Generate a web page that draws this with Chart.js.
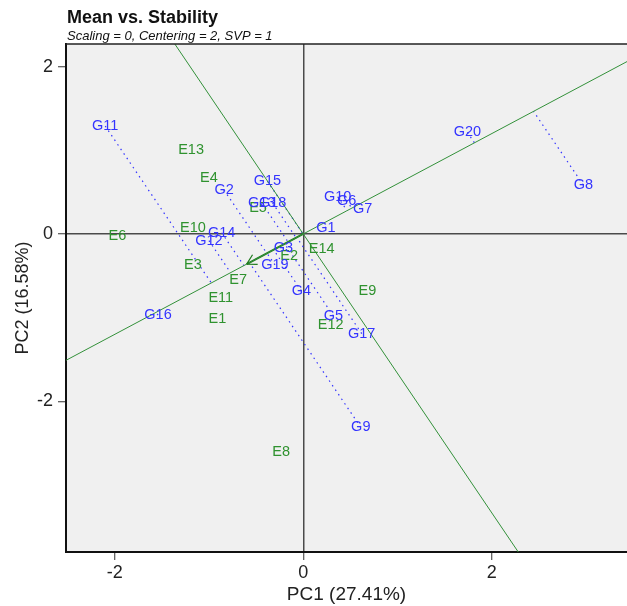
<!DOCTYPE html>
<html>
<head>
<meta charset="utf-8">
<script src="https://cdn.jsdelivr.net/npm/chart.js@4.4.1/dist/chart.umd.min.js"></script>
<style>
  body { margin: 0; background: #fff; }
  canvas { display: block; }
</style>
</head>
<body>
<canvas id="chart" width="627" height="606"></canvas>
<script>
// genotype scores (PC1, PC2)
const genoNames = ['G1','G2','G3','G4','G5','G6','G7','G8','G9','G10',
                   'G11','G12','G13','G14','G15','G16','G17','G18','G19','G20']
const genoPC1 = [0.24, -0.84, -0.21, -0.02, 0.32, 0.46, 0.63, 2.97, 0.61, 0.365,
                 -2.10, -1.00, -0.44, -0.865, -0.38, -1.54, 0.62, -0.325, -0.30, 1.74]
const genoPC2 = [0.07, 0.525, -0.17, -0.68, -0.98, 0.40, 0.295, 0.585, -2.31, 0.445,
                 1.29, -0.08, 0.37, 0.015, 0.63, -0.97, -1.19, 0.37, -0.37, 1.215]

// environment scores (PC1, PC2)
const envNames = ['E1','E2','E3','E4','E5','E6','E7','E8','E9','E10','E11','E12','E13','E14']
const envPC1 = [-0.91, -0.15, -1.17, -1.00, -0.48, -1.97, -0.69, -0.235, 0.68, -1.17, -0.875, 0.29, -1.19, 0.195]
const envPC2 = [-1.02, -0.26, -0.37, 0.67, 0.31, -0.02, -0.55, -2.61, -0.68, 0.07, -0.77, -1.09, 1.00, -0.18]

// average environment coordinate (arrow tip)
const meanEnv = [-0.60, -0.36]

const xTicks = [-2, 0, 2]
const yTicks = [-2, 0, 2]
const xRange = [-2.516, 3.433]
const yRange = [-3.80, 2.27]

const blue = '#3434ff'
const green = '#2f922f'
const lineGreen = '#33913a'

chartIt()

function chartIt() {
    const [mx, my] = meanEnv
    const m2 = mx * mx + my * my
    const slope = my / mx

    const datasets = []

    // AEC abscissa (through origin and mean environment)
    datasets.push({
        data: [{x: xRange[0] - 1, y: slope * (xRange[0] - 1)}, {x: xRange[1] + 1, y: slope * (xRange[1] + 1)}],
        showLine: true, borderColor: lineGreen, borderWidth: 1, pointRadius: 0
    })
    // AEC ordinate (perpendicular through origin)
    datasets.push({
        data: [{x: -slope * (yRange[1] + 1), y: yRange[1] + 1}, {x: -slope * (yRange[0] - 1), y: yRange[0] - 1}],
        showLine: true, borderColor: lineGreen, borderWidth: 1, pointRadius: 0
    })
    // arrow shaft from origin to mean environment
    datasets.push({
        data: [{x: 0, y: 0}, {x: mx, y: my}],
        showLine: true, borderColor: '#1f7a1f', borderWidth: 2, pointRadius: 0
    })
    // dotted projections of each genotype onto the AEC abscissa
    genoNames.forEach((name, i) => {
        const gx = genoPC1[i], gy = genoPC2[i]
        const t = (gx * mx + gy * my) / m2
        datasets.push({
            data: [{x: gx, y: gy}, {x: t * mx, y: t * my}],
            showLine: true, borderColor: blue, borderWidth: 1.2,
            borderDash: [1.5, 4], pointRadius: 0
        })
    })

    const labelPlugin = {
        id: 'labels',
        beforeDraw(chart) {
            const {ctx, chartArea: a} = chart
            ctx.save()
            ctx.fillStyle = '#f0f0f0'
            ctx.fillRect(a.left, a.top, a.right - a.left, a.bottom - a.top)
            // title and subtitle
            ctx.fillStyle = '#111'
            ctx.textAlign = 'left'
            ctx.textBaseline = 'alphabetic'
            ctx.font = 'bold 18px "Liberation Sans", Arial, sans-serif'
            ctx.fillText('Mean vs. Stability', a.left + 1, 23)
            ctx.font = 'italic 13px "Liberation Sans", Arial, sans-serif'
            ctx.fillText('Scaling = 0, Centering = 2, SVP = 1', a.left + 1, 40)
            ctx.restore()
        },
        afterDatasetsDraw(chart) {
            const {ctx, chartArea: a} = chart
            const xs = chart.scales.x, ys = chart.scales.y
            ctx.save()
            // arrow head at mean environment
            const tx = xs.getPixelForValue(meanEnv[0]), ty = ys.getPixelForValue(meanEnv[1])
            const ox = xs.getPixelForValue(0), oy = ys.getPixelForValue(0)
            const ang = Math.atan2(oy - ty, ox - tx)
            ctx.strokeStyle = '#1f7a1f'
            ctx.lineWidth = 1.2
            ctx.beginPath()
            for (const d of [-0.52, 0.52]) {
                ctx.moveTo(tx, ty)
                ctx.lineTo(tx + 11 * Math.cos(ang + d), ty + 11 * Math.sin(ang + d))
            }
            ctx.stroke()

            ctx.textAlign = 'center'
            ctx.textBaseline = 'middle'
            ctx.font = '14.5px "Liberation Sans", Arial, sans-serif'
            ctx.fillStyle = green
            envNames.forEach((n, i) => {
                ctx.fillText(n, xs.getPixelForValue(envPC1[i]), ys.getPixelForValue(envPC2[i]))
            })
            ctx.fillStyle = blue
            genoNames.forEach((n, i) => {
                ctx.fillText(n, xs.getPixelForValue(genoPC1[i]), ys.getPixelForValue(genoPC2[i]))
            })
            // top frame line
            ctx.strokeStyle = '#222'
            ctx.lineWidth = 1.5
            ctx.beginPath()
            ctx.moveTo(a.left, a.top)
            ctx.lineTo(a.right, a.top)
            ctx.stroke()
            ctx.restore()
        }
    }

    const zeroGrid = {
        color: c => (c.tick && c.tick.value === 0) ? '#4a4a4a' : 'rgba(0,0,0,0)',
        lineWidth: 1.5,
        tickColor: '#333',
        tickLength: 8,
        tickWidth: 1
    }

    const ctx = document.getElementById('chart').getContext('2d')
    new Chart(ctx, {
        type: 'scatter',
        data: { datasets },
        plugins: [labelPlugin],
        options: {
            responsive: false,
            animation: false,
            devicePixelRatio: 1,
            layout: { padding: { top: 44, left: 0, right: 0, bottom: 0 } },
            plugins: { legend: { display: false }, tooltip: { enabled: false } },
            scales: {
                x: {
                    type: 'linear', min: xRange[0], max: xRange[1],
                    afterFit: s => { s.height = 54 },
                    afterBuildTicks: s => { s.ticks = xTicks.map(v => ({value: v})) },
                    grid: zeroGrid,
                    border: { color: '#111', width: 2 },
                    ticks: { color: '#222', padding: 2, font: { size: 18, family: '"Liberation Sans", Arial' } },
                    title: { display: true, text: 'PC1 (27.41%)', color: '#222', padding: 0,
                             font: { size: 19, family: '"Liberation Sans", Arial' } }
                },
                y: {
                    type: 'linear', min: yRange[0], max: yRange[1],
                    afterFit: s => { s.width = 66 },
                    afterBuildTicks: s => { s.ticks = yTicks.map(v => ({value: v})) },
                    grid: zeroGrid,
                    border: { color: '#111', width: 2 },
                    ticks: { color: '#222', padding: 5, font: { size: 18, family: '"Liberation Sans", Arial' } },
                    title: { display: true, text: 'PC2 (16.58%)', color: '#222', padding: { top: 12 },
                             font: { size: 18, family: '"Liberation Sans", Arial' } }
                }
            }
        }
    })
}
</script>
</body>
</html>
